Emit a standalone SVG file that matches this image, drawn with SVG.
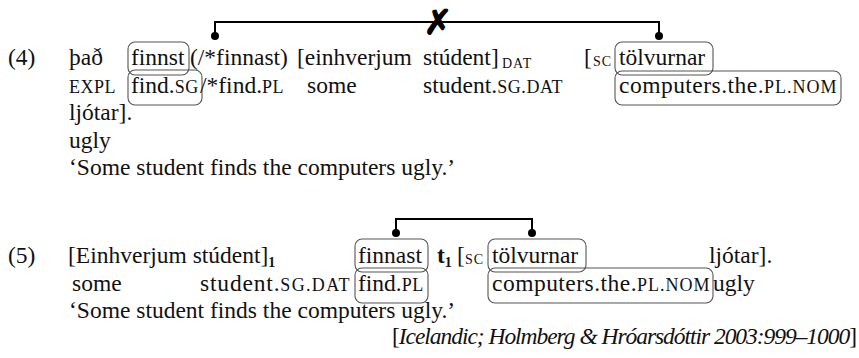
<svg xmlns="http://www.w3.org/2000/svg" width="859" height="358" viewBox="0 0 859 358">
<style>
text { font-family: "Liberation Serif", "Times New Roman", serif; font-size: 23.5px; fill: #111; }
.sc { font-size: 18px; letter-spacing: 0.5px; }
.sub { font-size: 14px; letter-spacing: 1px; }
.b { font-weight: bold; }
.it { font-style: italic; }
.box { fill: none; stroke: #555; stroke-width: 1.1; }
.conn { fill: none; stroke: #000; stroke-width: 2; }
.dot { fill: #000; }
.x { font-family: "DejaVu Sans", sans-serif; font-size: 34px; font-weight: bold; fill: #000; stroke: #000; stroke-width: 1.2; }
</style>
<rect width="859" height="358" fill="#fff"/>

<g id="connectors">
  <path class="conn" d="M215,36 V22 H659 V36"/>
  <circle class="dot" cx="215" cy="36" r="4"/>
  <circle class="dot" cx="659" cy="36" r="4"/>
  <text class="x" x="438" y="34" text-anchor="middle">✗</text>
  <path class="conn" d="M396,233 V219 H532 V233"/>
  <circle class="dot" cx="396" cy="233" r="4"/>
  <circle class="dot" cx="532" cy="233" r="4"/>
</g>

<g id="ex4">
  <g id="ex4-finnst"><rect class="box" x="128" y="42" width="61" height="33" rx="7"/><text x="131" y="65">finnst</text></g>
  <g id="ex4-findsg"><rect class="box" x="128" y="70" width="74" height="35" rx="7"/><text x="131" y="93">find.<tspan class="sc">SG</tspan></text></g>
  <g id="ex4-tolvurnar"><rect class="box" x="615" y="42" width="98" height="33" rx="7"/><text x="619" y="65">tölvurnar</text></g>
  <g id="ex4-computers"><rect class="box" x="615" y="71" width="226" height="34" rx="7"/><text x="619" y="93" textLength="218">computers.the.<tspan class="sc">PL.NOM</tspan></text></g>

  <text x="8" y="65">(4)</text>
  <text x="69" y="65">það</text>
  <text x="190" y="65">(/*finnast)</text>
  <text x="297" y="65">[einhverjum</text>
  <text x="423" y="65">stúdent]</text>
  <text class="sub" x="502" y="68">DAT</text>
  <text x="584" y="65">[</text>
  <text class="sub" x="593" y="66">SC</text>

  <text class="sc" x="69" y="93">EXPL</text>
  <text x="200" y="93">/*find.<tspan class="sc">PL</tspan></text>
  <text x="307" y="93">some</text>
  <text x="423" y="93" textLength="140">student.<tspan class="sc">SG.DAT</tspan></text>

  <text x="69" y="120">ljótar].</text>
  <text x="69" y="148">ugly</text>
  <text x="69" y="175">‘Some student finds the computers ugly.’</text>
</g>

<g id="ex5">
  <g id="ex5-finnast"><rect class="box" x="355" y="239" width="73" height="33" rx="7"/><text x="358" y="263">finnast</text></g>
  <g id="ex5-findpl"><rect class="box" x="355" y="268" width="73" height="35" rx="7"/><text x="358" y="291">find.<tspan class="sc">PL</tspan></text></g>
  <g id="ex5-tolvurnar"><rect class="box" x="488" y="239" width="98" height="33" rx="7"/><text x="492" y="263">tölvurnar</text></g>
  <g id="ex5-computers"><rect class="box" x="488" y="268" width="225" height="35" rx="7"/><text x="492" y="291" textLength="218">computers.the.<tspan class="sc">PL.NOM</tspan></text></g>

  <text x="8" y="263">(5)</text>
  <text x="68" y="263">[Einhverjum stúdent]<tspan class="sub b" dy="4">1</tspan></text>
  <text x="437" y="263"><tspan class="b">t</tspan><tspan class="sub b" dy="4">1</tspan></text>
  <text x="457" y="263">[</text>
  <text class="sub" x="465" y="264">SC</text>
  <text x="709" y="263">ljótar].</text>

  <text x="72" y="291">some</text>
  <text x="200" y="291" textLength="150">student.<tspan class="sc">SG.DAT</tspan></text>
  <text x="713" y="291">ugly</text>

  <text x="69" y="318">‘Some student finds the computers ugly.’</text>
  <text x="392" y="344" textLength="465">[<tspan class="it">Icelandic; Holmberg &amp; Hróarsdóttir 2003:999–1000</tspan>]</text>
</g>
</svg>
